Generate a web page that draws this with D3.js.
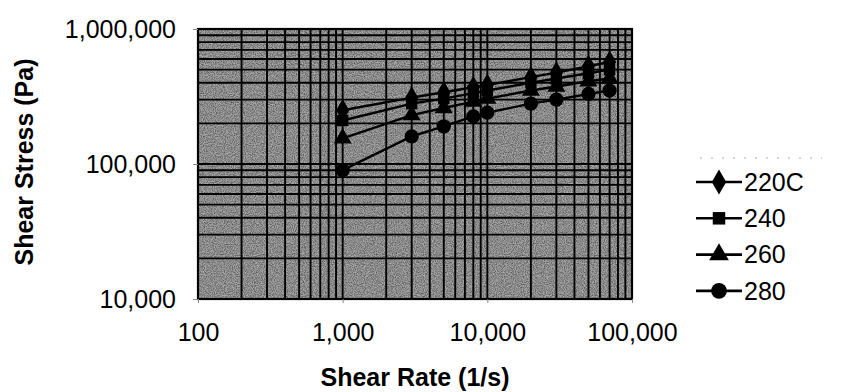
<!DOCTYPE html>
<html>
<head>
<meta charset="utf-8">
<script src="https://cdn.jsdelivr.net/npm/d3@7"></script>
<style>
  body { margin: 0; background: #fff; }
  text { font-family: Arial, "Liberation Sans", sans-serif; fill: #000; }
</style>
</head>
<body>
<div id="chart"></div>
<script>
// shear rate (1/s) and shear stress (Pa) per temperature
const shearRates = [1000, 3000, 5000, 8000, 10000, 20000, 30000, 50000, 70000];
const stress220 = [250000, 310000, 340000, 370000, 385000, 440000, 475000, 530000, 570000];
const stress240 = [210000, 280000, 305000, 335000, 350000, 400000, 430000, 470000, 500000];
const stress260 = [155000, 230000, 260000, 290000, 305000, 350000, 375000, 410000, 430000];
const stress280 = [90000, 160000, 190000, 225000, 240000, 280000, 300000, 330000, 350000];
const seriesNames = ['220C', '240', '260', '280'];
const xTicks = [100, 1000, 10000, 100000];
const yTicks = [10000, 100000, 1000000];

const width = 845, height = 392;
const margin = { top: 29, right: 213, bottom: 93, left: 198 };

const svg = d3.select('#chart').append('svg')
  .attr('width', width)
  .attr('height', height);

const x = d3.scaleLog().domain([100, 100000]).range([margin.left, width - margin.right]);
const y = d3.scaleLog().domain([10000, 1000000]).range([height - margin.bottom, margin.top]);

// grainy halftone look of the plot area
const defs = svg.append('defs');
const f = defs.append('filter').attr('id', 'grain').attr('x', 0).attr('y', 0).attr('width', 1).attr('height', 1);
f.append('feTurbulence').attr('type', 'fractalNoise').attr('baseFrequency', 0.9).attr('numOctaves', 2).attr('seed', 3);
f.append('feColorMatrix').attr('type', 'matrix')
  .attr('values', '0 0 0 0 0  0 0 0 0 0  0 0 0 0 0  0 0 0 -1.6 1.1');

svg.append('rect')
  .attr('x', x.range()[0]).attr('y', y.range()[1])
  .attr('width', x.range()[1] - x.range()[0])
  .attr('height', y.range()[0] - y.range()[1])
  .attr('fill', '#a8a8a8');

svg.append('rect')
  .attr('x', x.range()[0]).attr('y', y.range()[1])
  .attr('width', x.range()[1] - x.range()[0])
  .attr('height', y.range()[0] - y.range()[1])
  .attr('filter', 'url(#grain)')
  .attr('opacity', 0.6);

// major + minor gridlines
const grid = svg.append('g').attr('stroke', '#000').attr('stroke-width', 1.9);
grid.selectAll('line.vx')
  .data(x.ticks())
  .enter().append('line')
  .attr('x1', d => x(d)).attr('x2', d => x(d))
  .attr('y1', y.range()[1]).attr('y2', y.range()[0]);
grid.selectAll('line.hy')
  .data(y.ticks())
  .enter().append('line')
  .attr('y1', d => y(d)).attr('y2', d => y(d))
  .attr('x1', x.range()[0]).attr('x2', x.range()[1]);

svg.append('rect')
  .attr('x', x.range()[0]).attr('y', y.range()[1])
  .attr('width', x.range()[1] - x.range()[0])
  .attr('height', y.range()[0] - y.range()[1])
  .attr('fill', 'none')
  .attr('stroke', '#000')
  .attr('stroke-width', 2.2);

// axes
const xAxis = svg.append('g')
  .attr('transform', `translate(0,${y.range()[0]})`)
  .call(d3.axisBottom(x).tickValues(xTicks).tickFormat(d3.format(',')).tickSize(4).tickPadding(20));
const yAxis = svg.append('g')
  .attr('transform', `translate(${x.range()[0]},0)`)
  .call(d3.axisLeft(y).tickValues(yTicks).tickFormat(d3.format(',')).tickSize(5).tickPadding(17));
[xAxis, yAxis].forEach(a => {
  a.select('.domain').remove();
  a.selectAll('.tick line').attr('stroke', '#888');
  a.selectAll('.tick text').attr('font-size', 25).attr('font-family', 'Arial, "Liberation Sans", sans-serif');
});

svg.append('text')
  .attr('x', (x.range()[0] + x.range()[1]) / 2)
  .attr('y', 386)
  .attr('text-anchor', 'middle')
  .attr('font-size', 25)
  .attr('font-weight', 'bold')
  .text('Shear Rate (1/s)');

svg.append('text')
  .attr('transform', 'translate(33,162) rotate(-90)')
  .attr('text-anchor', 'middle')
  .attr('font-size', 25)
  .attr('font-weight', 'bold')
  .text('Shear Stress (Pa)');

// series
const symbols = [d3.symbolDiamond, d3.symbolSquare, d3.symbolTriangle, d3.symbolCircle];
const sizes = [150, 130, 140, 160];
const allStress = [stress220, stress240, stress260, stress280];
const series = seriesNames.map((name, i) => ({
  name,
  symbol: symbols[i],
  size: sizes[i],
  values: shearRates.map((r, j) => ({ rate: r, stress: allStress[i][j] }))
}));

const line = d3.line().x(d => x(d.rate)).y(d => y(d.stress));

const sg = svg.append('g').selectAll('g').data(series).enter().append('g');
sg.append('path')
  .attr('d', d => line(d.values))
  .attr('fill', 'none')
  .attr('stroke', '#000')
  .attr('stroke-width', 2.4);
sg.each(function (s) {
  d3.select(this).selectAll('path.m')
    .data(s.values)
    .enter().append('path')
    .attr('class', 'm')
    .attr('transform', d => `translate(${x(d.rate)},${y(d.stress)})`)
    .attr('d', d3.symbol().type(s.symbol).size(s.size))
    .attr('fill', '#000');
});

// legend (faint dotted frame top, as scanned)
svg.append('line')
  .attr('x1', 700).attr('x2', 822).attr('y1', 158).attr('y2', 158)
  .attr('stroke', '#aaa').attr('stroke-width', 1).attr('stroke-dasharray', '2,9');

const legend = svg.append('g').attr('transform', 'translate(696,182)');
const li = legend.selectAll('g').data(series).enter().append('g')
  .attr('transform', (d, i) => `translate(0,${i * 36.3})`);
li.append('line')
  .attr('x1', 0).attr('x2', 46)
  .attr('stroke', '#000').attr('stroke-width', 2.6);
li.append('path')
  .attr('transform', 'translate(23,0)')
  .attr('d', d => d3.symbol().type(d.symbol).size(d.size * 1.2)())
  .attr('fill', '#000');
li.append('text')
  .attr('x', 48)
  .attr('dy', '0.35em')
  .attr('font-size', 25)
  .text(d => d.name);
</script>
</body>
</html>
